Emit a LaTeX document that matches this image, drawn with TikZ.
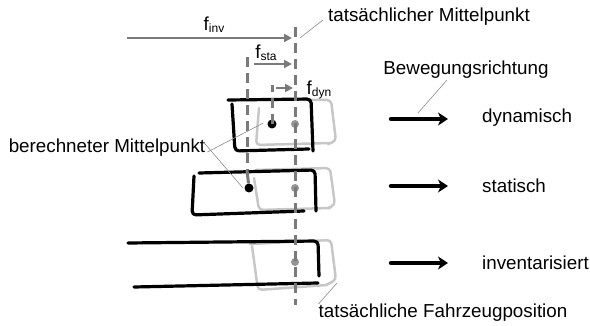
\documentclass[tikz,border=0pt]{standalone}
\usepackage{fontspec}
\setmainfont{Liberation Sans}
\usetikzlibrary{arrows.meta}
\newcommand{\fsub}[1]{f\raisebox{-2pt}{\fontsize{12}{12}\selectfont #1}}
\tikzset{
  lbl/.style={font=\fontsize{18.8}{21}\selectfont, inner sep=0pt},
  leader/.style={draw=black!45, line width=0.6pt},
  car/.style={line width=3.2pt, black, rounded corners=4pt, line cap=round, line join=round},
  ghost/.style={line width=2.5pt, black!22, rounded corners=4pt, line cap=round, line join=round},
  dashline/.style={dash pattern=on 10pt off 6pt, line width=3pt, black!52},
  farrow/.style={line width=2.6pt, black!52, -{Triangle[length=8pt,width=8pt]}},
  dirarrow/.style={line width=4.5pt, black, line cap=round, -{Stealth[length=10pt,width=13pt,inset=3pt]}},
  dotb/.style={circle, fill=black, inner sep=0pt, minimum size=9pt},
  dotg/.style={circle, fill=black!42, inner sep=0pt, minimum size=8pt}
}
\begin{document}
\begin{tikzpicture}[x=1pt,y=-1pt]
\useasboundingbox (0,0) rectangle (590,326);
% ghost cars (actual positions)
\draw[ghost] (262,100) -- (331,100) -- (336,141) -- (328,144);
\draw[ghost] (259,108) -- (256,145) -- (330,143);
\draw[ghost] (256,170) -- (330,168) -- (335,205) -- (328,208);
\draw[ghost] (254,178) -- (259,210) -- (330,208);
\draw[ghost] (250,244) -- (331,240) -- (336,280) -- (326,285);
\draw[ghost] (252,246) -- (258,290) -- (327,285);
% black cars (computed positions)
\draw[car] (228,100) -- (311,99) -- (313,151);
\draw[car] (232,104) -- (235,151) -- (309,149);
\draw[car] (199,173) -- (315,170) -- (316,211);
\draw[car] (194,176) -- (192,215) -- (304,211);
\draw[car] (128,243) -- (318,241) -- (319,276);
\draw[line width=3.2pt, line cap=round] (134,287) -- (318,283);
% dots
\node[dotb] (cd) at (272,124) {};
\node[dotg] (ad) at (295,124) {};
\node[dotb] (cs) at (249,188) {};
\node[dotg] (as) at (295,188) {};
\node[dotg] (ai) at (295,262) {};
% dashed lines
\coordinate (mtop) at (295,27);
\coordinate (mbot) at (295,305);
\draw[dashline] (mtop) -- (mbot);
\coordinate (stop) at (247,57);
\coordinate (smid) at (247,170);
\draw[dashline] (stop) -- (smid);
\draw[line width=3pt, black!52] (smid) -- (cs);
\coordinate (dtop) at (272,85);
\draw[dashline] (cd.center) -- (dtop);
% offset arrows
\coordinate (fi0) at (127,38); \coordinate (fi1) at (292,38);
\coordinate (fs0) at (254,64); \coordinate (fs1) at (292,64);
\coordinate (fd0) at (276,88); \coordinate (fd1) at (293,88);
\draw[farrow] (fi0) -- (fi1);
\draw[farrow] (fs0) -- (fs1);
\draw[farrow] (fd0) -- (fd1);
\node[lbl] (finv) at (214,25) {\fsub{inv}};
\node[lbl] (fsta) at (266,53) {\fsub{sta}};
\node[lbl] (fdyn) at (319,90) {\fsub{dyn}};
% labels
\node[lbl] (tm) at (429,17) {tatsächlicher Mittelpunkt};
\draw[leader] (323,20) -- (300,38);
\node[lbl] (bm) at (107,148) {berechneter Mittelpunkt};
\draw[leader] ([xshift=2pt,yshift=-4pt]bm.east) -- ([xshift=-4pt,yshift=1pt]cd.west);
\draw[leader] ([xshift=-2pt,yshift=6pt]bm.east) -- ([xshift=-3pt,yshift=-3pt]cs.north west);
\node[lbl] (bw) at (466,70) {Bewegungsrichtung};
\draw[leader] (447,80) -- (418,113);
\node[lbl] (tf) at (443,313) {tatsächliche Fahrzeugposition};
\draw[leader] (337,283) -- (tf.north west);
% direction arrows
\coordinate (r1s) at (391,119); \coordinate (r1e) at (448,119);
\coordinate (r2s) at (391,186); \coordinate (r2e) at (448,186);
\coordinate (r3s) at (391,263); \coordinate (r3e) at (448,263);
\draw[dirarrow] (r1s) -- (r1e);
\draw[dirarrow] (r2s) -- (r2e);
\draw[dirarrow] (r3s) -- (r3e);
\node[lbl, anchor=west] (ldyn) at (482,118) {dynamisch};
\node[lbl, anchor=west] (lsta) at (482,186) {statisch};
\node[lbl, anchor=west] (linv) at (482,263) {inventarisiert};
\end{tikzpicture}
\end{document}
